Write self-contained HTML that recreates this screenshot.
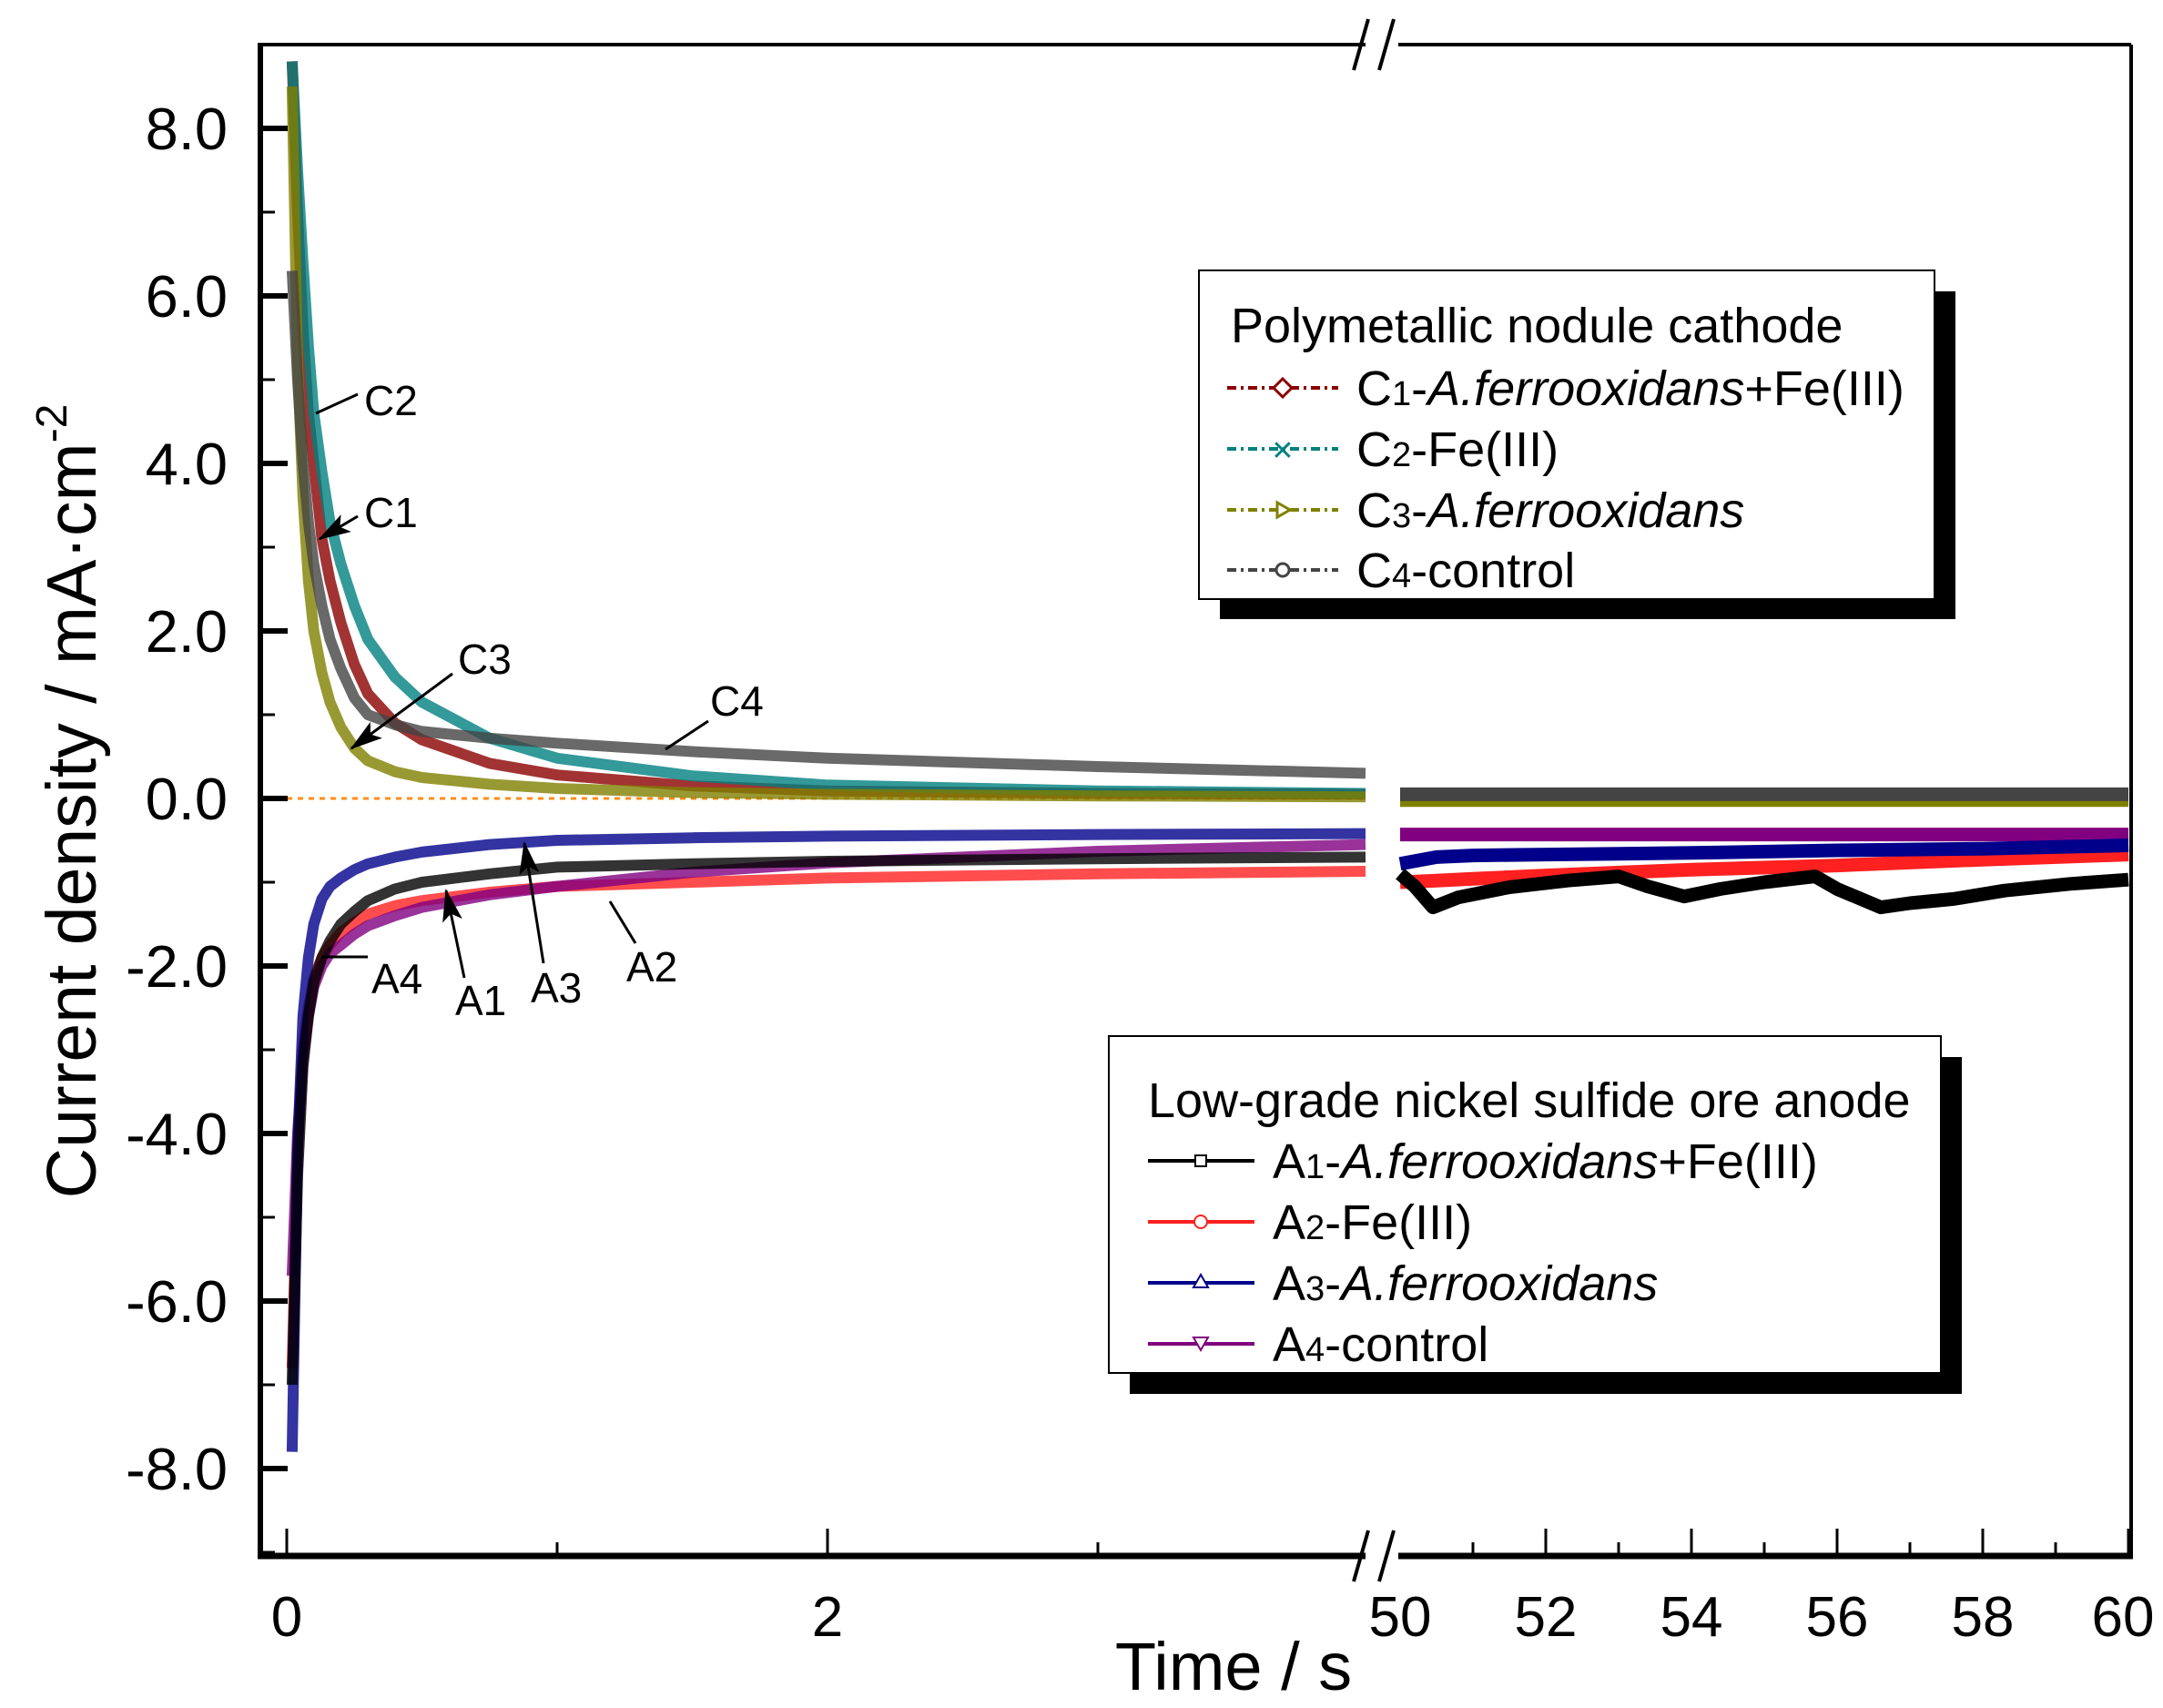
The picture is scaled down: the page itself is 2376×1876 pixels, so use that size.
<!DOCTYPE html>
<html><head><meta charset="utf-8"><style>
html,body{margin:0;padding:0;background:#fff}
svg{display:block}
text{font-family:"Liberation Sans",sans-serif}
</style></head><body>
<svg id="chart" width="2376" height="1876" viewBox="0 0 2376 1876">
<rect width="2376" height="1876" fill="#fff"/>
<g id="plot"></g>
</svg>
<script>
// ---------- data ----------
const cTimesL = [0.02,0.04,0.06,0.08,0.1,0.13,0.16,0.2,0.25,0.3,0.4,0.5,0.75,1,1.5,2,3,3.99];
const c1L = [8.8,7.0,5.6,4.6,4.0,3.1,2.6,2.1,1.6,1.25,0.9,0.7,0.42,0.28,0.15,0.09,0.06,0.05];
const c2L = [8.8,7.5,6.4,5.4,4.6,3.9,3.3,2.8,2.3,1.9,1.45,1.15,0.72,0.48,0.27,0.16,0.09,0.06];
const c3L = [8.5,5.2,3.6,2.6,2.0,1.5,1.15,0.85,0.6,0.45,0.32,0.25,0.17,0.12,0.07,0.05,0.03,0.02];
const c4L = [6.3,5.0,4.0,3.3,2.8,2.3,1.9,1.55,1.2,1.0,0.88,0.8,0.72,0.66,0.56,0.48,0.38,0.3];
const cTimesR = [50,60];
const c1R = [0.0,0.0];
const c2R = [0.0,0.0];
const c3R = [-0.02,-0.02];
const c4R = [0.05,0.05];

const aTimesL = [0.02,0.04,0.06,0.08,0.1,0.13,0.16,0.2,0.25,0.3,0.4,0.5,0.75,1,1.5,2,3,3.99];
const a1L = [-7.0,-4.5,-3.2,-2.6,-2.2,-1.9,-1.7,-1.5,-1.35,-1.22,-1.08,-1.0,-0.9,-0.82,-0.78,-0.75,-0.72,-0.7];
const a2L = [-6.8,-4.2,-3.0,-2.5,-2.15,-1.9,-1.75,-1.6,-1.48,-1.38,-1.28,-1.22,-1.12,-1.05,-1.0,-0.95,-0.9,-0.87];
const a3L = [-7.8,-4.2,-2.6,-1.9,-1.5,-1.2,-1.05,-0.95,-0.85,-0.78,-0.7,-0.64,-0.55,-0.5,-0.47,-0.45,-0.43,-0.42];
const a4L = [-5.7,-4.0,-3.1,-2.6,-2.25,-2.0,-1.85,-1.75,-1.62,-1.52,-1.4,-1.3,-1.15,-1.05,-0.88,-0.77,-0.63,-0.55];
const a1TimesR = [50,50.2,50.45,50.8,51.5,52.3,53.0,53.4,53.9,54.4,55.0,55.7,56.0,56.6,57.0,57.6,58.3,59.2,60];
const a1R = [-0.9,-1.05,-1.3,-1.18,-1.06,-0.98,-0.93,-1.05,-1.17,-1.08,-1.0,-0.93,-1.08,-1.3,-1.25,-1.2,-1.1,-1.02,-0.97];
const aTimesR = [50,50.5,51,52,54,56,58,60];
const a2R = [-1.0,-0.98,-0.96,-0.92,-0.85,-0.8,-0.73,-0.67];
const a3R = [-0.78,-0.7,-0.68,-0.67,-0.65,-0.62,-0.6,-0.56];
const a4R = [-0.43,-0.43,-0.43,-0.43,-0.43,-0.43,-0.43,-0.43];

const yTicks = [8,6,4,2,0,-2,-4,-6,-8];
const yTickLabels = ["8.0","6.0","4.0","2.0","0.0","-2.0","-4.0","-6.0","-8.0"];
const xTicksL = [0,2];
const xTicksR = [50,52,54,56,58,60];

// ---------- axes ----------
const NS="http://www.w3.org/2000/svg";
const g=document.getElementById('plot');
const PL=286,PR=2341,PT=49,PB=1709;
function xL(t){return 315+t*297;}
function xR(t){return 1538+(t-50)*80;}
function y(v){return 877-v*92;}
function mk(tag,attrs,parent){const e=document.createElementNS(NS,tag);for(const k in attrs)e.setAttribute(k,attrs[k]);(parent||g).appendChild(e);return e;}
function pts(ts,vs,fx){return ts.map((t,i)=>fx(t).toFixed(1)+','+y(vs[i]).toFixed(1)).join(' ');}

let z=mk('line',{x1:xL(0),x2:xL(3.99),y1:y(0),y2:y(0),stroke:'#ff8c1a','stroke-width':3,'stroke-dasharray':'6,6'});



const series=[
 {name:'c1',color:'#8b0000',tl:cTimesL,vl:c1L,tr:cTimesR,vr:c1R},
 {name:'c2',color:'#008080',tl:cTimesL,vl:c2L,tr:cTimesR,vr:c2R},
 {name:'c3',color:'#808000',tl:cTimesL,vl:c3L,tr:cTimesR,vr:c3R},
 {name:'c4',color:'#444444',tl:cTimesL,vl:c4L,tr:cTimesR,vr:c4R},
 {name:'a2',color:'#ff2020',tl:aTimesL,vl:a2L,tr:aTimesR,vr:a2R},
 {name:'a4',color:'#800080',tl:aTimesL,vl:a4L,tr:aTimesR,vr:a4R},
 {name:'a3',color:'#00008b',tl:aTimesL,vl:a3L,tr:aTimesR,vr:a3R},
 {name:'a1',color:'#000000',tl:aTimesL,vl:a1L,tr:a1TimesR,vr:a1R}
];
series.forEach(s=>{
  const gr=mk('g',{});
  
  
  const l1=mk('polyline',{points:pts(s.tl,s.vl,xL),fill:'none',stroke:s.color,'stroke-width':12,'stroke-linejoin':'round','stroke-opacity':0.8},gr);
  
  
  const l2=mk('polyline',{points:pts(s.tr,s.vr,xR),fill:'none',stroke:s.color,'stroke-width':15,'stroke-linejoin':'round'},gr);
  
  
});

// frame
mk('line',{x1:PL,x2:PL,y1:PT-2,y2:PB+3,stroke:'#000','stroke-width':6});
mk('line',{x1:PL-3,x2:PR+2,y1:PB,y2:PB,stroke:'#000','stroke-width':7});
mk('line',{x1:PL,x2:PR,y1:PT,y2:PT,stroke:'#000','stroke-width':4});
mk('line',{x1:PR,x2:PR,y1:PT,y2:PB,stroke:'#000','stroke-width':4});
for(let v=-9;v<=9;v++){
  const len=(v%2===0)?30:16;
  mk('line',{x1:PL,x2:PL+len,y1:y(v),y2:y(v),stroke:'#000','stroke-width':v%2===0?6:3});
}
yTicks.forEach((v,i)=>{
  const t=mk('text',{x:250,y:y(v)+23,'font-size':65,'text-anchor':'end'});
  t.textContent=yTickLabels[i];
  
  
});
[0,1,2,3].forEach(t=>{mk('line',{x1:xL(t),x2:xL(t),y1:PB,y2:PB-(t%2===0?30:15),stroke:'#000','stroke-width':3});});
for(let t=51;t<=60;t++){mk('line',{x1:xR(t),x2:xR(t),y1:PB,y2:PB-(t%2===0?30:15),stroke:'#000','stroke-width':3});}
xTicksL.forEach(t=>{const e=mk('text',{x:xL(t),y:1797,'font-size':62,'text-anchor':'middle'});e.textContent=t;});
xTicksR.forEach(t=>{const e=mk('text',{x:xR(t)+(t===60?-6:0),y:1797,'font-size':62,'text-anchor':'middle'});e.textContent=t;});
[[PT,'top'],[PB,'bottom']].forEach(([yy,n])=>{
  const b=mk('g',{});
  
  
  mk('rect',{x:1500,y:yy-8,width:36,height:16,fill:'#fff'},b);
  mk('line',{x1:1487,y1:yy+28,x2:1503,y2:yy-28,stroke:'#000','stroke-width':4},b);
  mk('line',{x1:1515,y1:yy+28,x2:1531,y2:yy-28,stroke:'#000','stroke-width':4},b);
});
</script>
<svg width="2376" height="1876" style="position:absolute;left:0;top:0">
<defs>
<marker id="ah2" markerWidth="36" markerHeight="22" refX="34" refY="11" orient="auto" markerUnits="userSpaceOnUse"><path d="M0,0 L36,11 L0,22 L8,11 Z" fill="#000"/></marker></defs>
<g font-family="Liberation Sans, sans-serif" font-size="46" fill="#000" stroke="#000" stroke-width="3">
<line x1="347" y1="454" x2="393" y2="433"/><text x="400" y="456" stroke="none">C2</text>
<line x1="393" y1="567" x2="351" y2="592" marker-end="url(#ah2)"/><text x="400" y="579" stroke="none">C1</text>
<line x1="497" y1="740" x2="386" y2="822" marker-end="url(#ah2)"/><text x="503" y="740" stroke="none">C3</text>
<line x1="731" y1="823" x2="778" y2="792"/><text x="780" y="786" stroke="none">C4</text>
<line x1="353" y1="1051" x2="404" y2="1051"/><text x="408" y="1091" stroke="none">A4</text>
<line x1="510" y1="1074" x2="490" y2="978" marker-end="url(#ah2)"/><text x="500" y="1115" stroke="none">A1</text>
<line x1="597" y1="1058" x2="576" y2="926" marker-end="url(#ah2)"/><text x="583" y="1101" stroke="none">A3</text>
<line x1="670" y1="990" x2="698" y2="1036"/><text x="688" y="1078" stroke="none">A2</text>
</g>
<text x="1355" y="1856" font-family="Liberation Sans, sans-serif" font-size="74" text-anchor="middle">Time / s</text>
<text transform="translate(105,880) rotate(-90)" font-family="Liberation Sans, sans-serif" font-size="77" text-anchor="middle">Current density / mA·cm<tspan dy="-32" font-size="48">-2</tspan></text>

<g font-family="Liberation Sans, sans-serif" font-size="54">
<rect x="1340" y="320" width="808" height="360" fill="#000"/>
<rect x="1317" y="297" width="808" height="361" fill="#fff" stroke="#000" stroke-width="2"/>
<text x="1352" y="376">Polymetallic nodule cathode</text>
<g><line x1="1348" x2="1470" y1="426" y2="426" stroke="#8b0000" stroke-width="4" stroke-dasharray="10,5,3,5"/><path d="M1409,416 l10,10 l-10,10 l-10,-10z" fill="#fff" stroke="#8b0000" stroke-width="3"/><text x="1490" y="445">C<tspan font-size="38">1</tspan>-<tspan font-style="italic">A.ferrooxidans</tspan>+Fe(III)</text></g>
<g><line x1="1348" x2="1470" y1="493" y2="493" stroke="#008080" stroke-width="4" stroke-dasharray="10,5,3,5"/><text x="1409" y="505" font-size="30" text-anchor="middle" fill="#008080">✕</text><text x="1490" y="512">C<tspan font-size="38">2</tspan>-Fe(III)</text></g>
<g><line x1="1348" x2="1470" y1="560" y2="560" stroke="#808000" stroke-width="4" stroke-dasharray="10,5,3,5"/><path d="M1403,552 l14,8 l-14,8z" fill="#fff" stroke="#808000" stroke-width="3"/><text x="1490" y="579">C<tspan font-size="38">3</tspan>-<tspan font-style="italic">A.ferrooxidans</tspan></text></g>
<g><line x1="1348" x2="1470" y1="626" y2="626" stroke="#444" stroke-width="4" stroke-dasharray="10,5,3,5"/><circle cx="1409" cy="626" r="7" fill="#fff" stroke="#444" stroke-width="3"/><text x="1490" y="645">C<tspan font-size="38">4</tspan>-control</text></g>
</g>

<g font-family="Liberation Sans, sans-serif" font-size="54">
<rect x="1241" y="1161" width="914" height="370" fill="#000"/>
<rect x="1218" y="1138" width="914" height="370" fill="#fff" stroke="#000" stroke-width="2"/>
<text x="1261" y="1227">Low-grade nickel sulfide ore anode</text>
<g><line x1="1261" x2="1378" y1="1275" y2="1275" stroke="#000" stroke-width="4"/><rect x="1313" y="1269" width="12" height="12" fill="#fff" stroke="#000" stroke-width="2"/><text x="1398" y="1294">A<tspan font-size="38">1</tspan>-<tspan font-style="italic">A.ferrooxidans</tspan>+Fe(III)</text></g>
<g><line x1="1261" x2="1378" y1="1342" y2="1342" stroke="#ff2020" stroke-width="4"/><circle cx="1319" cy="1342" r="7" fill="#fff" stroke="#ff2020" stroke-width="2"/><text x="1398" y="1361">A<tspan font-size="38">2</tspan>-Fe(III)</text></g>
<g><line x1="1261" x2="1378" y1="1409" y2="1409" stroke="#00008b" stroke-width="4"/><path d="M1319,1400 l8,14 l-16,0z" fill="#fff" stroke="#00008b" stroke-width="2"/><text x="1398" y="1428">A<tspan font-size="38">3</tspan>-<tspan font-style="italic">A.ferrooxidans</tspan></text></g>
<g><line x1="1261" x2="1378" y1="1476" y2="1476" stroke="#800080" stroke-width="4"/><path d="M1311,1469 l16,0 l-8,14z" fill="#fff" stroke="#800080" stroke-width="2"/><text x="1398" y="1495">A<tspan font-size="38">4</tspan>-control</text></g>
</g>
</svg>
</body></html>
